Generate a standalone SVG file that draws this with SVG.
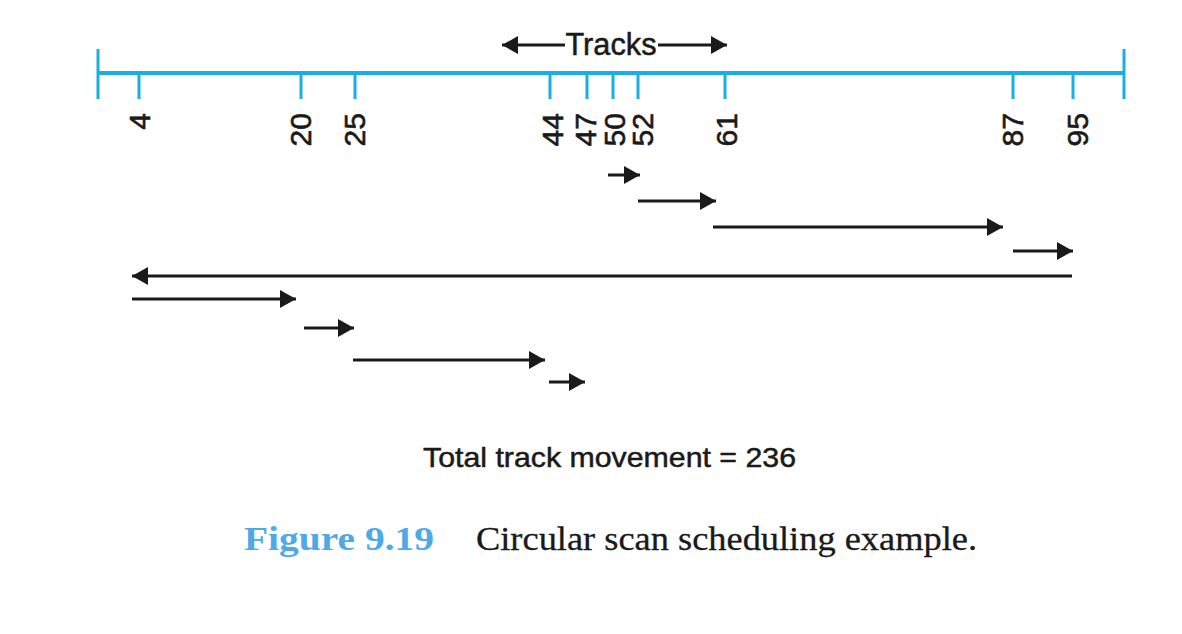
<svg xmlns="http://www.w3.org/2000/svg" width="1182" height="634" viewBox="0 0 1182 634">
<defs>
<style>
.axis{stroke:#1aaee6;stroke-width:4;fill:none}
.tick{stroke:#1aaee6;stroke-width:3;fill:none}
.lbl{font-family:"Liberation Sans",Arial,sans-serif;font-size:30px;fill:#1a1a1a;stroke:#1a1a1a;stroke-width:0.6;text-anchor:end}
.mv{stroke:#1a1a1a;stroke-width:3;fill:none}
.head{fill:#1a1a1a}
.sans{font-family:"Liberation Sans",Arial,sans-serif;fill:#1a1a1a;stroke:#1a1a1a;stroke-width:0.5}
.serif{font-family:"Liberation Serif","Times New Roman",serif}
</style>
<marker id="ah" viewBox="0 0 16 18" refX="16" refY="9" markerWidth="16" markerHeight="18" markerUnits="userSpaceOnUse" orient="auto">
<path d="M0,0 L16,9 L0,18 Z" class="head"/>
</marker>
</defs>
<rect width="1182" height="634" fill="#ffffff"/>

<g id="axis">
<line class="axis" x1="98" y1="73" x2="1124" y2="73"/>
<line class="tick" x1="98" y1="49" x2="98" y2="99"/>
<line class="tick" x1="1124" y1="49" x2="1124" y2="99"/>
</g>

<g id="tracks-label">
<text class="sans" x="611" y="55" font-size="31" text-anchor="middle" textLength="91" lengthAdjust="spacingAndGlyphs">Tracks</text>
<line class="mv" x1="565" y1="45" x2="502" y2="45" marker-end="url(#ah)"/>
<line class="mv" x1="658" y1="45" x2="727" y2="45" marker-end="url(#ah)"/>
</g>

<g id="ticks">
<g id="t4"><line class="tick" x1="139" y1="73" x2="139" y2="99"/><text class="lbl" transform="translate(150,113) rotate(-90)">4</text></g>
<g id="t20"><line class="tick" x1="301" y1="73" x2="301" y2="99"/><text class="lbl" transform="translate(311,113) rotate(-90)">20</text></g>
<g id="t25"><line class="tick" x1="355" y1="73" x2="355" y2="99"/><text class="lbl" transform="translate(365,113) rotate(-90)">25</text></g>
<g id="t44"><line class="tick" x1="550" y1="73" x2="550" y2="99"/><text class="lbl" transform="translate(563,113) rotate(-90)">44</text></g>
<g id="t47"><line class="tick" x1="587" y1="73" x2="587" y2="99"/><text class="lbl" transform="translate(596,113) rotate(-90)">47</text></g>
<g id="t50"><line class="tick" x1="613" y1="73" x2="613" y2="99"/><text class="lbl" transform="translate(625,113) rotate(-90)">50</text></g>
<g id="t52"><line class="tick" x1="638" y1="73" x2="638" y2="99"/><text class="lbl" transform="translate(653,113) rotate(-90)">52</text></g>
<g id="t61"><line class="tick" x1="725" y1="73" x2="725" y2="99"/><text class="lbl" transform="translate(737,113) rotate(-90)">61</text></g>
<g id="t87"><line class="tick" x1="1013" y1="73" x2="1013" y2="99"/><text class="lbl" transform="translate(1023,113) rotate(-90)">87</text></g>
<g id="t95"><line class="tick" x1="1073" y1="73" x2="1073" y2="99"/><text class="lbl" transform="translate(1088,113) rotate(-90)">95</text></g>
</g>

<g id="connectors">
<line class="mv" x1="608" y1="175" x2="640" y2="175" marker-end="url(#ah)"/>
<line class="mv" x1="638" y1="201" x2="716" y2="201" marker-end="url(#ah)"/>
<line class="mv" x1="713" y1="227" x2="1003" y2="227" marker-end="url(#ah)"/>
<line class="mv" x1="1013" y1="251" x2="1073" y2="251" marker-end="url(#ah)"/>
<line class="mv" x1="1072" y1="276" x2="132" y2="276" marker-end="url(#ah)"/>
<line class="mv" x1="132" y1="299" x2="296" y2="299" marker-end="url(#ah)"/>
<line class="mv" x1="304" y1="328" x2="354" y2="328" marker-end="url(#ah)"/>
<line class="mv" x1="353" y1="360" x2="545" y2="360" marker-end="url(#ah)"/>
<line class="mv" x1="549" y1="382" x2="585" y2="382" marker-end="url(#ah)"/>
</g>

<g id="total">
<text class="sans" x="423" y="467" font-size="28" textLength="373" lengthAdjust="spacingAndGlyphs">Total track movement = 236</text>
</g>

<g id="caption">
<text class="serif" x="244" y="550" font-size="33" font-weight="bold" fill="#4ea9e6" textLength="190" lengthAdjust="spacingAndGlyphs">Figure 9.19</text>
<text class="serif" x="476" y="550" font-size="33" fill="#1a1a1a" stroke="#1a1a1a" stroke-width="0.3" textLength="501" lengthAdjust="spacingAndGlyphs">Circular scan scheduling example.</text>
</g>
</svg>
